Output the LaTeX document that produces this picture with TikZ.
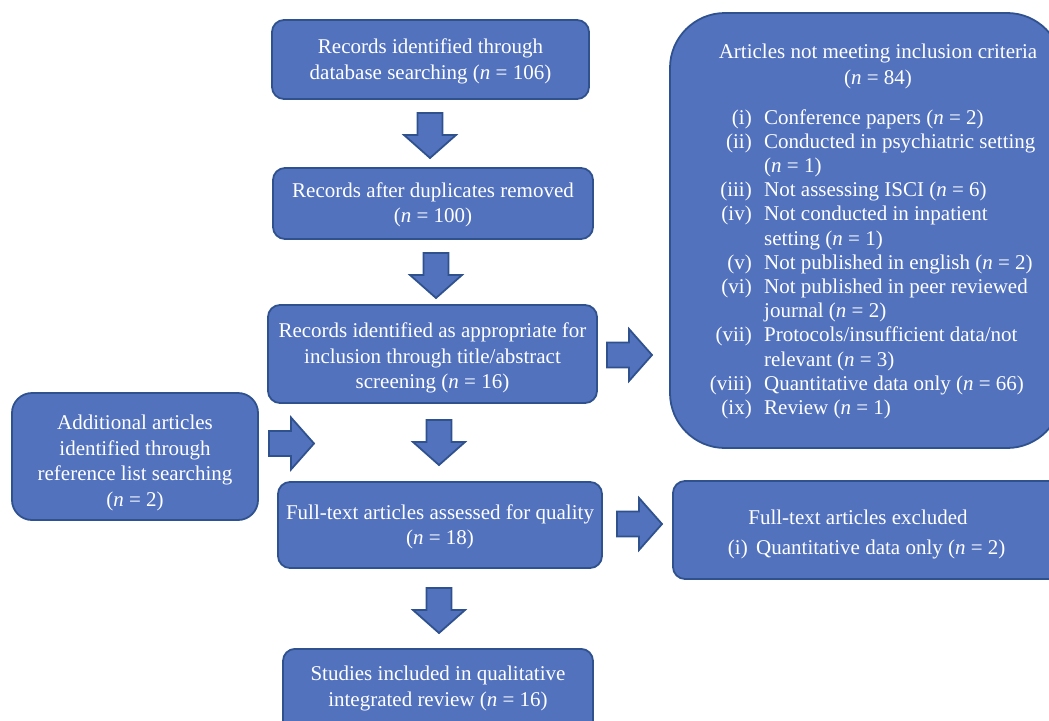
\documentclass[tikz,border=0pt]{standalone}
\usepackage{fontspec}
\setmainfont{Liberation Serif}
\definecolor{boxfill}{RGB}{82,114,190}
\definecolor{boxdraw}{RGB}{47,82,143}
\newcommand{\nn}{\textit{n}}
\tikzset{
  fbox/.style={draw=boxdraw, line width=1.8pt, fill=boxfill, rounded corners=12pt,
    inner sep=0pt},
  btext/.style={text=white, inner sep=0pt, align=center, font=\fontsize{21}{25.5}\selectfont},
  blockarrow/.style={draw=boxdraw, line width=1.8pt, fill=boxfill, line join=miter},
  barrow/.pic={\path[blockarrow] (0,-12.5) -- (22,-12.5) -- (22,-26) -- (45,0) -- (22,26) -- (22,12.5) -- (0,12.5) -- cycle;}
}
\begin{document}
\begin{tikzpicture}[x=1pt,y=-1pt]
\useasboundingbox (0,0) rectangle (1049,720);
\clip (0,0) rectangle (1049,720);
% main column
\node[fbox, minimum width=317pt, minimum height=79pt] (b1) at (430.5,59.5) {};
\node[btext] (b1t) at (430.5,61.5) {Records identified through\\database searching (\nn{} = 106)};
\node[fbox, minimum width=320pt, minimum height=71pt] (b2) at (433,203.5) {};
\node[btext] (b2t) at (433,205) {Records after duplicates removed\\(\nn{} = 100)};
\node[fbox, minimum width=329pt, minimum height=98pt] (b3) at (432.5,354) {};
\node[btext] (b3t) at (432.5,358) {Records identified as appropriate for\\inclusion through title/abstract\\screening (\nn{} = 16)};
\node[fbox, minimum width=324pt, minimum height=86pt] (b4) at (440,525) {};
\node[btext] (b4t) at (440,527) {Full-text articles assessed for quality\\(\nn{} = 18)};
\node[fbox, minimum width=310pt, minimum height=100pt, anchor=north] (b5) at (438,648) {};
\node[btext] (b5t) at (438,688.5) {Studies included in qualitative\\integrated review (\nn{} = 16)};
% left box
\node[fbox, rounded corners=20pt, minimum width=246pt, minimum height=127pt] (lb) at (135,456.5) {};
\node[btext] (lbt) at (135,463) {Additional articles\\identified through\\reference list searching\\(\nn{} = 2)};
% big right box
\node[fbox, rounded corners=55pt, minimum width=392pt, minimum height=435pt] (rb) at (866,230.5) {};
\node[btext] (rbt) at (878,66.5) {Articles not meeting inclusion criteria\\(\nn{} = 84)};
\foreach \k/\lab/\txt in {0/(i)/Conference papers (\nn{} = 2),
  1/(ii)/Conducted in psychiatric setting,
  2//(\nn{} = 1),
  3/(iii)/Not assessing ISCI (\nn{} = 6),
  4/(iv)/Not conducted in inpatient,
  5//setting (\nn{} = 1),
  6/(v)/Not published in english (\nn{} = 2),
  7/(vi)/Not published in peer reviewed,
  8//journal (\nn{} = 2),
  9/(vii)/Protocols\slash insufficient data\slash not,
  10//relevant (\nn{} = 3),
  11/(viii)/Quantitative data only (\nn{} = 66),
  12/(ix)/Review (\nn{} = 1)}{
  \node[btext, anchor=base east] (rl\k) at (752,124+24.2*\k) {\lab};
  \node[btext, anchor=base west] (rt\k) at (764,124+24.2*\k) {\txt};
}
% bottom right box
\node[fbox, minimum width=392pt, minimum height=98pt] (eb) at (869,530) {};
\node[btext, anchor=base] (ebt) at (858,524) {Full-text articles excluded};
\node[btext, anchor=base east] (ebl) at (748,554) {(i)};
\node[btext, anchor=base west] (ebr) at (756,554) {Quantitative data only (\nn{} = 2)};
% block arrows
\pic[rotate=-90] (a1) at (430,113) {barrow};
\pic[rotate=-90] (a2) at (436,253) {barrow};
\pic[rotate=-90] (a3) at (439,420) {barrow};
\pic[rotate=-90] (a4) at (439,588) {barrow};
\pic (a5) at (607,355) {barrow};
\pic (a6) at (269,443.5) {barrow};
\pic (a7) at (617,524) {barrow};
\end{tikzpicture}
\end{document}
